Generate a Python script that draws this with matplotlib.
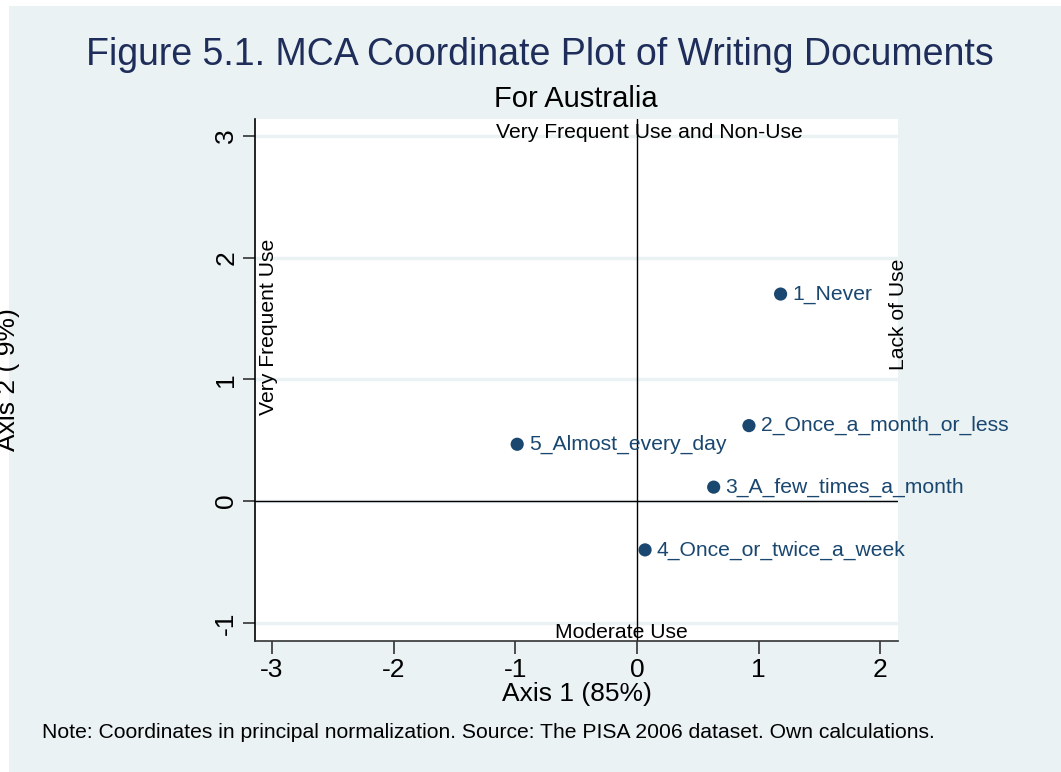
import matplotlib
matplotlib.use("Agg")
import matplotlib.pyplot as plt
from matplotlib.patches import Rectangle

labels = ["1_Never", "2_Once_a_month_or_less", "3_A_few_times_a_month",
          "4_Once_or_twice_a_week", "5_Almost_every_day"]
axis1 = [1.18, 0.92, 0.63, 0.066, -0.985]
axis2 = [1.70, 0.62, 0.115, -0.40, 0.467]
xticks = [-3, -2, -1, 0, 1, 2]
yticks = [-1, 0, 1, 2, 3]

BG = "#EAF2F3"
NAVY = "#1A476F"
plt.rcParams['font.family'] = ['Liberation Sans', 'DejaVu Sans']

W, H = 1061, 772
fig = plt.figure(figsize=(W / 100, H / 100), dpi=100)
fig.patch.set_facecolor("white")
fig.patches.append(Rectangle((9 / W, 0), 1 - 9 / W, 1 - 6 / H, transform=fig.transFigure,
                             facecolor=BG, edgecolor="none", zorder=-10))

left, right, top, bottom = 255, 898, 119, 641
ax = fig.add_axes([left / W, 1 - bottom / H, (right - left) / W, (bottom - top) / H])
ax.set_facecolor("white")
ax.set_xlim(-3.14, 2.145)
ax.set_ylim(-1.148, 3.137)

for s in ["top", "right"]:
    ax.spines[s].set_visible(False)
ax.spines["left"].set_color("black")
ax.spines["bottom"].set_color("#333333")
ax.spines["left"].set_linewidth(1.2)
ax.spines["bottom"].set_linewidth(1.2)

FS_TICK = 19
FS_LAB = 15.2
ax.set_xticks(xticks)
ax.set_yticks(yticks)
ax.set_xticklabels([str(v) for v in xticks], fontsize=FS_TICK)
ax.set_yticklabels([str(v) for v in yticks], fontsize=FS_TICK, rotation=90, va="center")
ax.tick_params(axis="both", direction="out", length=9, width=1.2, color="#333333", pad=3)
for yv in yticks:
    ax.axhline(yv, color=BG, lw=2.5, zorder=0)

ax.axhline(0, color="black", lw=1.0, zorder=1)
ax.axvline(0, color="black", lw=1.0, zorder=1)

ax.scatter(axis1, axis2, s=90, color=NAVY, zorder=3, edgecolors="none")
for x, y, t in zip(axis1, axis2, labels):
    ax.annotate(t, (x, y), xytext=(8.5, 0), textcoords="offset points",
                color=NAVY, fontsize=FS_LAB, va="center", ha="left", zorder=4,
                annotation_clip=False)

ax.text(0.1, 3.03, "Very Frequent Use and Non-Use", fontsize=FS_LAB, ha="center", va="center")
ax.text(-0.13, -1.08, "Moderate Use", fontsize=FS_LAB, ha="center", va="center")
ax.text(-3.03, 1.43, "Very Frequent Use", fontsize=FS_LAB, ha="center", va="center", rotation=90)
ax.text(2.145, 1.53, "Lack of Use", fontsize=FS_LAB, ha="center", va="center", rotation=90)

ax.set_xlabel("Axis 1 (85%)", fontsize=19, labelpad=0)
ax.set_ylabel("Axis 2 ( 9%)", fontsize=19)
ax.yaxis.set_label_coords((20 - left) / (right - left), 0.5)

fig.text(540 / W, 1 - 55 / H, "Figure 5.1. MCA Coordinate Plot of Writing Documents",
         fontsize=27, color="#1E2D5A", ha="center", va="center")
fig.text(576 / W, 1 - 99 / H, "For Australia", fontsize=21, ha="center", va="center")
fig.text(42 / W, 1 - 733 / H,
         "Note: Coordinates in principal normalization. Source: The PISA 2006 dataset. Own calculations.",
         fontsize=FS_LAB, ha="left", va="center")

fig.savefig("out.png", dpi=100, facecolor=fig.get_facecolor())
